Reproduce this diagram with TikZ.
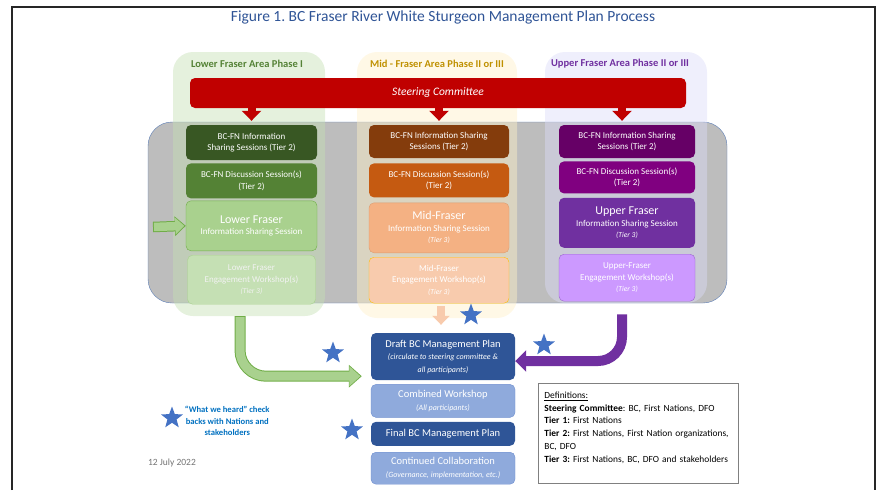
\documentclass[tikz,border=0pt]{standalone}
\usepackage{fontspec}
\setmainfont{Carlito}
\usepackage{tikz}
\usetikzlibrary{shapes,arrows,arrows.meta,positioning}
\frenchspacing
\newcommand{\areaname}[1]{{\fontsize{12}{14}\selectfont #1}}
\newcommand{\tiernote}[1]{{\fontsize{7.5}{9}\selectfont\itshape #1}}
\newcommand{\plannote}[1]{{\fontsize{8}{10}\selectfont\itshape #1}}
\definecolor{titleblue}{HTML}{2F5496}
\definecolor{steerred}{HTML}{C00000}
\definecolor{lowlabel}{HTML}{548235}
\definecolor{midlabel}{HTML}{BF9000}
\definecolor{uplabel}{HTML}{7030A0}
\definecolor{lowpanel}{HTML}{C5E0B4}
\definecolor{midpanel}{HTML}{FFF0C8}
\definecolor{uppanel}{HTML}{DCDCF8}
\definecolor{grayback}{HTML}{BDBDBD}
\definecolor{grayline}{HTML}{5B7DB6}
\definecolor{lowone}{HTML}{385723}
\definecolor{lowtwo}{HTML}{548235}
\definecolor{lowthree}{HTML}{A9D18E}
\definecolor{lowfour}{HTML}{C5E0B4}
\definecolor{lowedge}{HTML}{70AD47}
\definecolor{midone}{HTML}{843C0C}
\definecolor{midtwo}{HTML}{C55A11}
\definecolor{midthree}{HTML}{F4B183}
\definecolor{midfour}{HTML}{F8CBAD}
\definecolor{midedge}{HTML}{FFC000}
\definecolor{upone}{HTML}{660066}
\definecolor{uptwo}{HTML}{800080}
\definecolor{upthree}{HTML}{7030A0}
\definecolor{upfour}{HTML}{CC99FF}
\definecolor{upedge}{HTML}{9966CC}
\definecolor{plandark}{HTML}{2F5597}
\definecolor{planlight}{HTML}{8FAADC}
\definecolor{planedge}{HTML}{6F8FD0}
\definecolor{starblue}{HTML}{4472C4}
\definecolor{noteblue}{HTML}{0070C0}
\tikzstyle{panel} = [rectangle, rounded corners=20pt, draw=none, fill opacity=0.45, minimum width=152pt]
\tikzstyle{phase} = [draw=none, fill=none, text centered, font=\bfseries\fontsize{10.5}{12}\selectfont]
\tikzstyle{textonly} = [draw=none, fill=none, text centered, inner sep=0pt]
\tikzstyle{session} = [rectangle, rounded corners=5pt, text=white, align=center, inner sep=1pt, font=\fontsize{9}{11.5}\selectfont]
\tikzstyle{plan} = [rectangle, rounded corners=5pt, text=white, align=center, inner sep=1pt, minimum width=144pt, font=\fontsize{10.5}{12.5}\selectfont]
\tikzstyle{checkstar} = [star, star points=5, star point ratio=2.4, fill=starblue, draw=none, minimum size=23pt, inner sep=0pt]
\tikzstyle{redarrow} = [draw=steerred, line width=8pt, shorten >=4pt, -{Triangle[width=19pt,length=10pt]}]

\begin{document}
\begin{tikzpicture}[x=1pt, y=-1pt]
\useasboundingbox (0,0) rectangle (878,490);

% frame and title ========================
\draw[line width=2.5pt, black!85] (12,490) -- (12,7) -- (875,7) -- (875,490);
\node[textonly, text=titleblue, font=\fontsize{15.5}{17}\selectfont] (title) at (443,17) {Figure 1. BC Fraser River White Sturgeon Management Plan Process};

% grey box and area panels
\node[rectangle, rounded corners=24pt, draw=grayline, fill=grayback, minimum width=579pt, minimum height=181pt] (sessions) at (437.5,212.5) {};

\node[panel, fill=lowpanel, minimum height=264pt] (lowarea) at (249,184) {};
\node[panel, fill=midpanel, minimum width=160pt, minimum height=266pt] (midarea) at (437,185) {};
\node[panel, fill=uppanel, minimum width=162pt, minimum height=251pt] (uparea) at (626,177.5) {};

\node[phase, text=lowlabel] (lowname) at (247,64) {Lower Fraser Area Phase I};
\node[phase, text=midlabel] (midname) at (437,64) {Mid - Fraser Area Phase II or III};
\node[phase, text=uplabel] (upname) at (620,64) {Upper Fraser Area Phase II or III};

% steering committee
\node[rectangle, rounded corners=5pt, fill=steerred, text=white, minimum width=496pt, minimum height=30pt, font=\itshape\fontsize{11.5}{13}\selectfont] (steer) at (438,93) {Steering Committee};

% lower fraser
\node[session, fill=lowone, minimum width=131pt, minimum height=35pt] (lf1) at (251.5,142.5) {BC-FN Information\\Sharing Sessions (Tier 2)};
\node[session, fill=lowtwo, minimum width=131pt, minimum height=35pt, below=3pt of lf1] (lf2) {BC-FN Discussion Session(s)\\(Tier 2)};
\node[session, fill=lowthree, draw=lowedge, minimum width=131pt, minimum height=50pt, below=2pt of lf2] (lf3) {\areaname{Lower Fraser}\\Information Sharing Session};
\node[session, fill=lowfour, draw=lowthree, text=white!95!black, minimum width=128pt, minimum height=49pt, below=4pt of lf3] (lf4) {Lower Fraser\\Engagement Workshop(s)\\\tiernote{(Tier 3)}};

% mid fraser
\node[session, fill=midone, minimum width=140pt, minimum height=33pt] (mf1) at (439,141.5) {BC-FN Information Sharing\\Sessions (Tier 2)};
\node[session, fill=midtwo, minimum width=140pt, minimum height=34pt, below=5pt of mf1] (mf2) {BC-FN Discussion Session(s)\\(Tier 2)};
\node[session, fill=midthree, draw=midtwo!60, minimum width=140pt, minimum height=50pt, below=5pt of mf2] (mf3) {\areaname{Mid-Fraser}\\Information Sharing Session\\\tiernote{(Tier 3)}};
\node[session, fill=midfour, draw=midedge, minimum width=140pt, minimum height=46pt, below=4pt of mf3] (mf4) {Mid-Fraser\\Engagement Workshop(s)\\\tiernote{(Tier 3)}};

% upper fraser
\node[session, fill=upone, minimum width=136pt, minimum height=33pt] (uf1) at (627,141.5) {BC-FN Information Sharing\\Sessions (Tier 2)};
\node[session, fill=uptwo, minimum width=136pt, minimum height=32pt, below=3pt of uf1] (uf2) {BC-FN Discussion Session(s)\\(Tier 2)};
\node[session, fill=upthree, minimum width=136pt, minimum height=50pt, below=4pt of uf2] (uf3) {\areaname{Upper Fraser}\\Information Sharing Session\\\tiernote{(Tier 3)}};
\node[session, fill=upfour, draw=upedge, minimum width=136pt, minimum height=47pt, below=6pt of uf3] (uf4) {Upper-Fraser\\Engagement Workshop(s)\\\tiernote{(Tier 3)}};

% edges steering committee to sessions
\path[redarrow] (steer.south -| lf1.north) -- (lf1.north);
\path[redarrow] (steer.south -| mf1.north) -- (mf1.north);
\path[redarrow] ([xshift=-5pt]steer.south -| uf1.north) -- ([xshift=-5pt]uf1.north);

% input to lower fraser session
\coordinate (lowin) at (153,227);
\draw[line width=10.5pt, draw=lowedge, -{Triangle[width=19pt,length=11pt]}] (lowin) -- (lf3.west);
\draw[line width=8.5pt, draw=lowthree, shorten <=1pt, shorten >=1.4pt, -{Triangle[width=16pt,length=9pt]}] (lowin) -- (lf3.west);

% management plan
\node[plan, fill=plandark, minimum height=47pt] (draft) at (443,356.5) {Draft BC Management Plan\\\plannote{(circulate to steering committee \&}\\\plannote{all participants)}};
\node[plan, fill=planlight, draw=planedge, minimum height=33pt, below=4pt of draft] (combined) {Combined Workshop\\\plannote{(All participants)}};
\node[plan, fill=plandark, minimum height=24pt, below=4pt of combined] (final) {Final BC Management Plan};
\node[plan, fill=planlight, draw=planedge, minimum height=32pt, below=6pt of final] (continued) {Continued Collaboration\\\plannote{(Governance, implementation, etc.)}};

% edges areas to draft plan
\draw[line width=8pt, draw=midfour, shorten <=3pt, shorten >=8pt, -{Triangle[width=17pt,length=9pt]}] ([xshift=-2pt]mf4.south -| draft.north) -- ([xshift=-2pt]draft.north);
\draw[line width=11pt, draw=lowedge, rounded corners=26pt, -{Triangle[width=22pt,length=13pt]}] ([xshift=-9pt]lowarea.south) |- ([xshift=-9pt,yshift=4pt]draft.south west);
\draw[line width=9pt, draw=lowthree, rounded corners=26pt, shorten <=1pt, shorten >=1.4pt, -{Triangle[width=19pt,length=11pt]}] ([xshift=-9pt]lowarea.south) |- ([xshift=-9pt,yshift=4pt]draft.south west);
\draw[line width=10pt, draw=upthree, rounded corners=24pt, -{Triangle[width=21pt,length=11pt]}] ([xshift=-5pt,yshift=-13pt]uf4.south) |- ([yshift=-4.5pt]draft.east);

% check backs
\node[checkstar] (star1) at (471,315) {};
\node[checkstar] (star2) at (333,353) {};
\node[checkstar] (star3) at (544,345) {};
\node[checkstar] (star4) at (352,430) {};
\node[checkstar] (keystar) at (172,418) {};
\node[textonly, right=6pt of keystar, yshift=-3pt, text=noteblue, align=center, font=\bfseries\fontsize{8.6}{11.5}\selectfont] (keytext) {“What we heard” check\\backs with Nations and\\stakeholders};

\node[textonly, text=black!55, font=\fontsize{9.5}{11}\selectfont] (date) at (172,463) {12 July 2022};

% definitions
\node[draw=black!50, line width=0.8pt, rectangle, align=left, text width=188pt, inner sep=6pt, minimum height=100pt, anchor=north west, font=\fontsize{9.4}{12.8}\selectfont] (defs) at (538,383) {\underline{Definitions:}\\\textbf{Steering Committee}: BC, First Nations, DFO\\\textbf{Tier 1:} First Nations\\\textbf{Tier 2:} First Nations, First Nation organizations,\\BC, DFO\\\textbf{Tier 3:} First Nations, BC, DFO and stakeholders\\\mbox{}};

\end{tikzpicture}
\end{document}
